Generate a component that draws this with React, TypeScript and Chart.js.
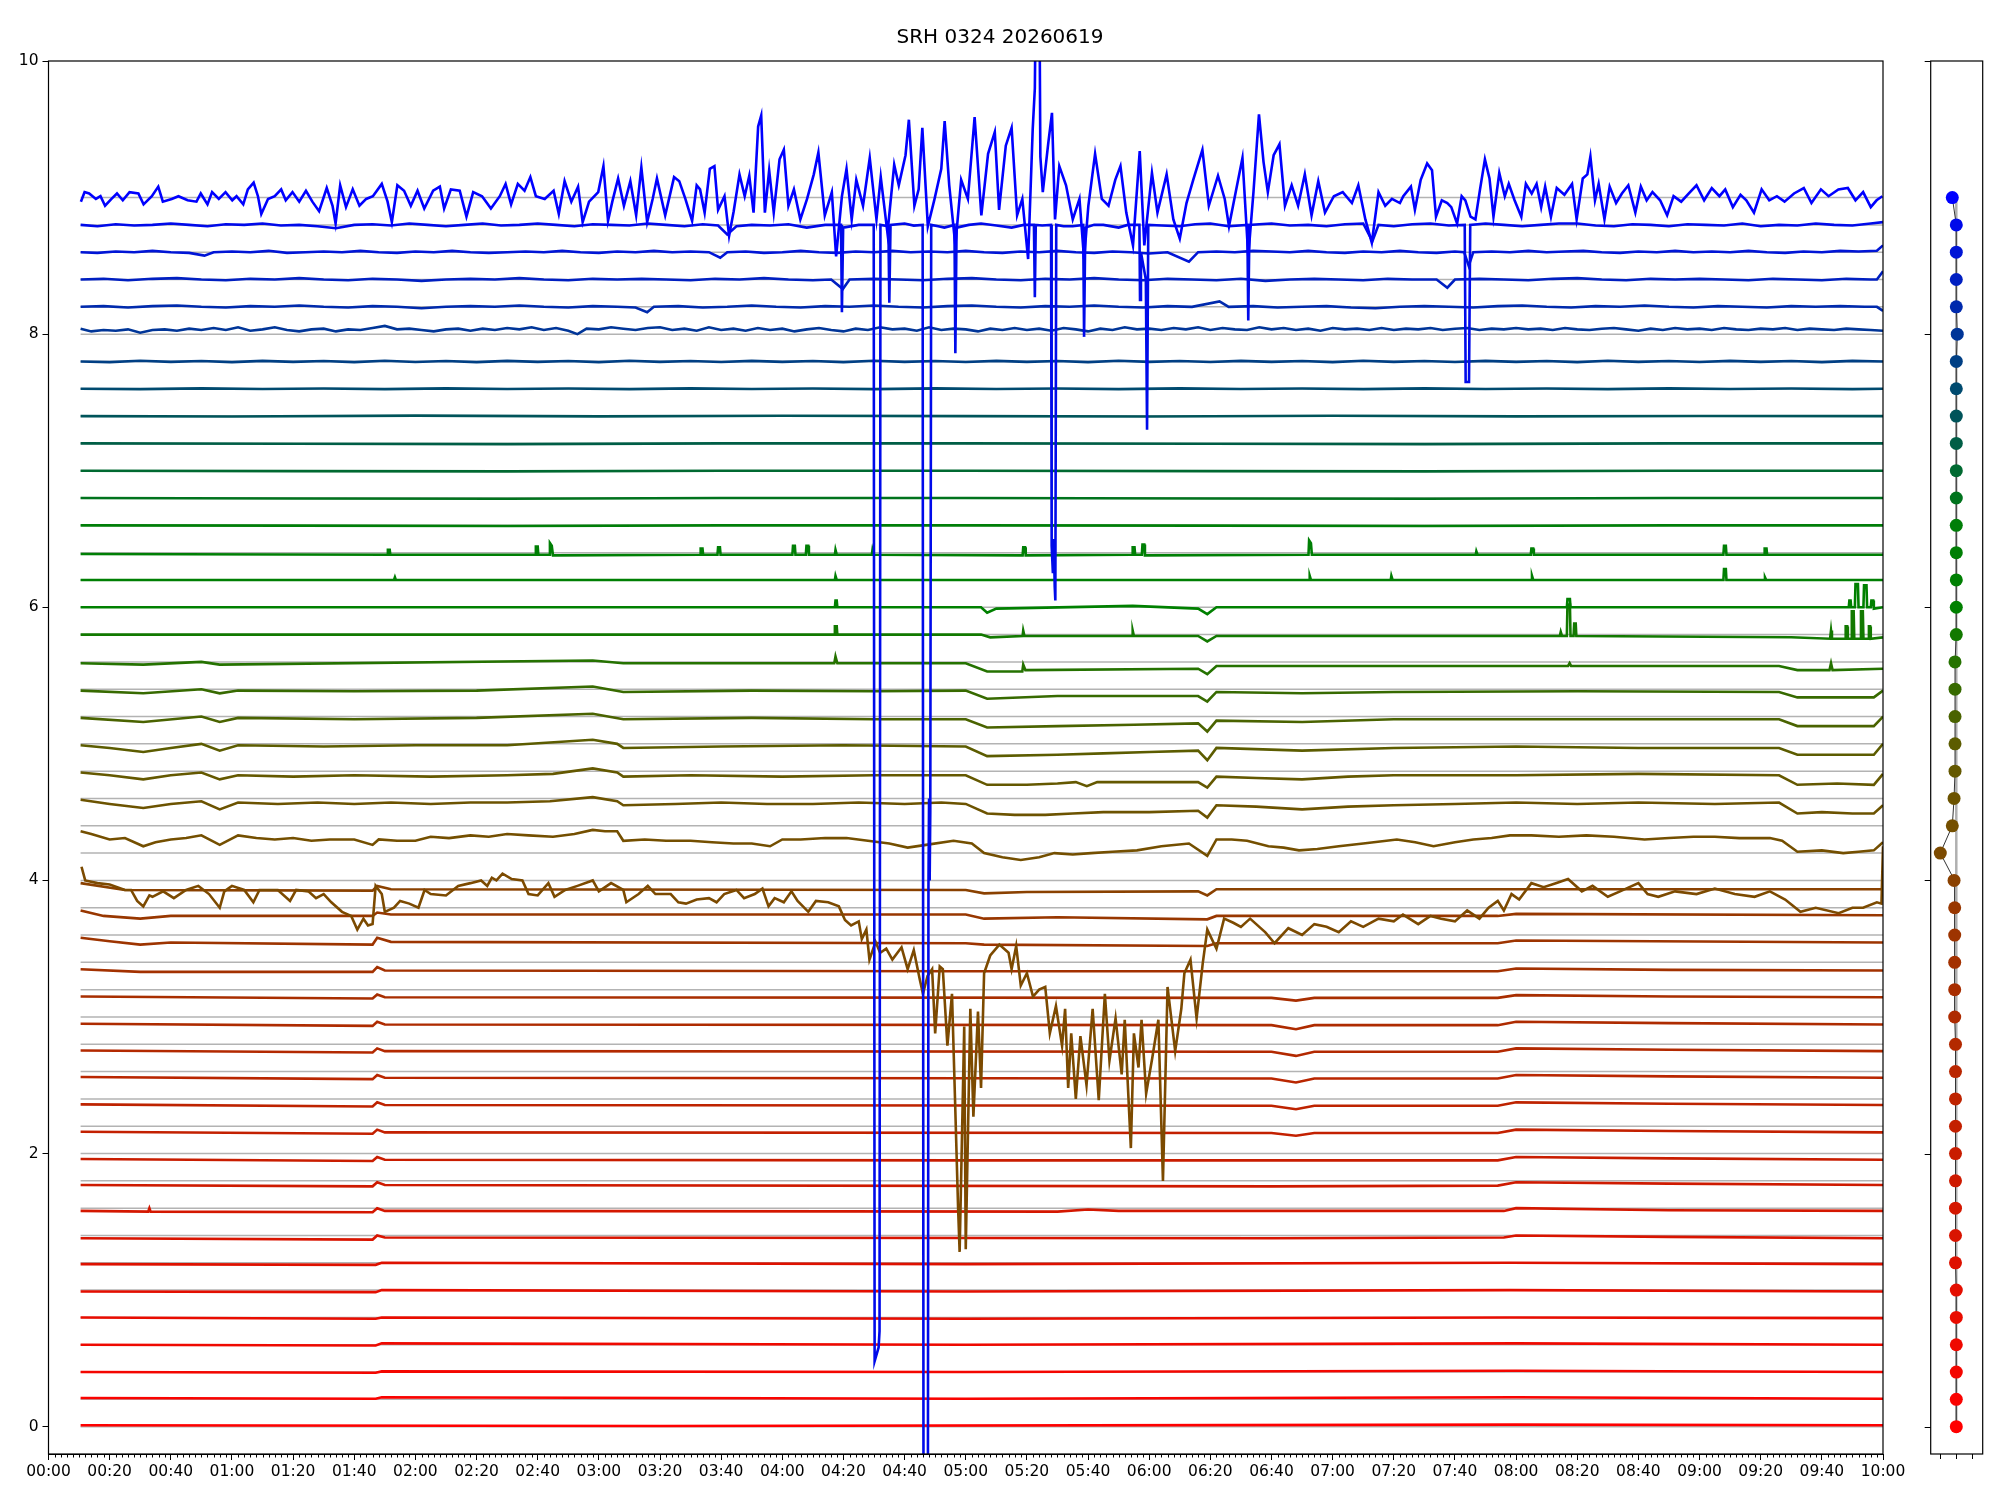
import React, { useEffect, useRef } from "react";
import { Chart, registerables } from "chart.js";
Chart.register(...registerables);

type Pt = [number, number];

const TITLE = "SRH 0324 20260619";

const channelLevels = [
  0.0, 0.2, 0.4, 0.6, 0.8, 1.0, 1.2, 1.4, 1.6, 1.8, 2.0, 2.2, 2.4, 2.6, 2.8, 3.0,
  3.2, 3.4, 3.6, 3.8, 4.0, 4.2, 4.4, 4.6, 4.8, 5.0, 5.2, 5.4, 5.6, 5.8, 6.0, 6.2,
  6.4, 6.6, 6.8, 7.0, 7.2, 7.4, 7.6, 7.8, 8.0, 8.2, 8.4, 8.6, 8.8, 9.0,
];

// ---- channel traces: [minute, value] ----
const ch00: Pt[] = [[10.5, 0.01], [200, 0.005], [480, 0.015], [600, 0.01]];
const ch02: Pt[] = [[10.5, 0.21], [107, 0.205], [109, 0.215], [300, 0.205], [480, 0.215], [600, 0.205]];
const ch04: Pt[] = [[10.5, 0.4], [107, 0.395], [109, 0.405], [300, 0.4], [480, 0.41], [600, 0.4]];
const ch06: Pt[] = [[10.5, 0.6], [107, 0.595], [109, 0.61], [300, 0.6], [480, 0.61], [600, 0.6]];
const ch08: Pt[] = [[10.5, 0.8], [107, 0.79], [109, 0.8], [300, 0.79], [478, 0.8], [600, 0.795]];
const ch10: Pt[] = [[10.5, 0.99], [107, 0.985], [109, 1.0], [300, 0.99], [478, 1.0], [600, 0.99]];
const ch12: Pt[] = [[10.5, 1.19], [107, 1.185], [109, 1.2], [300, 1.19], [478, 1.2], [600, 1.19]];
const ch14: Pt[] = [[10.5, 1.38], [106, 1.37], [107.5, 1.4], [110, 1.385], [400, 1.38], [476, 1.385], [480, 1.4], [530, 1.39], [600, 1.38]];
const ch16: Pt[] = [[10.5, 1.58], [32.6, 1.575], [33, 1.6], [33.4, 1.575], [106, 1.57], [107.5, 1.6], [110, 1.58], [330, 1.575], [340, 1.59], [350, 1.58], [476, 1.58], [480, 1.6], [530, 1.585], [600, 1.58]];
const ch18: Pt[] = [[10.5, 1.77], [106, 1.76], [107.5, 1.79], [110, 1.77], [400, 1.76], [474, 1.765], [480, 1.79], [530, 1.78], [600, 1.77]];
const ch20: Pt[] = [[10.5, 1.96], [106, 1.945], [107.5, 1.975], [110, 1.955], [300, 1.95], [474, 1.95], [480, 1.975], [530, 1.965], [600, 1.955]];
const ch22: Pt[] = [[10.5, 2.16], [106, 2.145], [107.5, 2.175], [110, 2.155], [400, 2.15], [408, 2.13], [414, 2.15], [474, 2.15], [480, 2.175], [530, 2.165], [600, 2.155]];
const ch24: Pt[] = [[10.5, 2.36], [106, 2.345], [107.5, 2.375], [110, 2.355], [400, 2.35], [408, 2.325], [414, 2.35], [474, 2.35], [480, 2.375], [530, 2.365], [600, 2.355]];
const ch26: Pt[] = [[10.5, 2.56], [106, 2.545], [107.5, 2.575], [110, 2.555], [400, 2.55], [408, 2.52], [414, 2.55], [474, 2.55], [480, 2.575], [530, 2.565], [600, 2.555]];
const ch28: Pt[] = [[10.5, 2.755], [106, 2.74], [107.5, 2.77], [110, 2.75], [400, 2.745], [408, 2.715], [414, 2.745], [474, 2.745], [480, 2.77], [530, 2.76], [600, 2.75]];
const ch30: Pt[] = [[10.5, 2.95], [106, 2.935], [107.5, 2.965], [110, 2.945], [400, 2.94], [408, 2.91], [414, 2.94], [474, 2.94], [480, 2.965], [530, 2.955], [600, 2.945]];
const ch32: Pt[] = [[10.5, 3.15], [106, 3.135], [107.5, 3.165], [110, 3.145], [400, 3.14], [408, 3.12], [414, 3.14], [474, 3.14], [480, 3.16], [530, 3.15], [600, 3.145]];
const ch34: Pt[] = [[10.5, 3.35], [30, 3.33], [106, 3.33], [107.5, 3.365], [110, 3.34], [300, 3.335], [474, 3.335], [480, 3.355], [530, 3.345], [600, 3.34]];
const ch36: Pt[] = [[10.5, 3.58], [20, 3.555], [30, 3.53], [40, 3.545], [106, 3.53], [107.5, 3.58], [112, 3.55], [300, 3.54], [306, 3.53], [379, 3.52], [382, 3.54], [474, 3.54], [480, 3.56], [600, 3.545]];
const ch38: Pt[] = [[10.5, 3.78], [18, 3.74], [30, 3.72], [40, 3.74], [106, 3.74], [107.5, 3.765], [112, 3.75], [300, 3.75], [306, 3.72], [330, 3.73], [379, 3.715], [382, 3.74], [474, 3.74], [480, 3.755], [600, 3.745]];
const ch40: Pt[] = [[10.5, 3.98], [25, 3.93], [106, 3.925], [107.5, 3.96], [112, 3.935], [300, 3.93], [306, 3.905], [320, 3.915], [376, 3.92], [379, 3.89], [382, 3.935], [600, 3.935]];
const ch42: Pt[] = [
  [10.8, 4.1], [12, 4.0], [16, 3.98], [20, 3.97], [25, 3.93], [27, 3.93], [29, 3.85], [31, 3.81], [33, 3.89], [34, 3.88],
  [37.5, 3.92], [41, 3.87], [45, 3.93], [49, 3.96], [52.5, 3.9], [56, 3.8], [57.5, 3.92], [60, 3.96], [64, 3.93], [67, 3.84],
  [69, 3.93], [75, 3.93], [79, 3.85], [81, 3.93], [85, 3.92], [87.5, 3.87], [90, 3.9], [92.5, 3.84], [96, 3.77], [99, 3.74],
  [101, 3.64], [103, 3.72], [104.5, 3.67], [106, 3.68], [107, 3.96], [109, 3.9], [110, 3.77], [113, 3.8], [115, 3.85], [118, 3.83],
  [121, 3.8], [123, 3.93], [125, 3.9], [130, 3.89], [134, 3.96], [138, 3.98], [141.5, 4.0], [143.5, 3.96], [145, 4.02], [146.5, 4.0],
  [148.5, 4.05], [151.5, 4.01], [155, 4.0], [157, 3.9], [160, 3.89], [163.5, 3.98], [165.5, 3.88], [169, 3.93], [173, 3.96], [178, 4.0],
  [180, 3.92], [184, 3.98], [188, 3.93], [189, 3.84], [193, 3.9], [196, 3.96], [198.5, 3.9], [203.5, 3.9], [206, 3.84], [208.5, 3.83],
  [212, 3.86], [216, 3.87], [218.5, 3.84], [221, 3.9], [225, 3.93], [227.5, 3.87], [231, 3.9], [233.5, 3.94], [235.5, 3.81], [237.5, 3.87],
  [240.5, 3.84], [243, 3.92], [245, 3.85], [248.5, 3.77], [251, 3.85], [255, 3.84], [258.5, 3.81], [260.5, 3.71], [262.5, 3.67], [265, 3.7],
  [266, 3.57], [267.5, 3.64], [268.5, 3.42], [270.5, 3.55], [272, 3.47], [274, 3.5], [276, 3.42], [279, 3.51], [281, 3.35], [283, 3.49],
  [285, 3.27], [286, 3.17], [287.5, 3.3], [289, 3.35], [290, 2.88], [291.5, 3.37], [292.5, 3.35], [294, 2.79], [295.5, 3.17], [296.5, 2.39],
  [297.5, 1.6], [298, 1.28], [299.5, 2.93], [300, 1.3], [301.5, 3.06], [302.5, 2.27], [304, 3.04], [305, 2.48], [306, 3.32], [308, 3.45],
  [311, 3.53], [314, 3.47], [315, 3.35], [316.5, 3.52], [318, 3.23], [320, 3.32], [322, 3.15], [324, 3.2], [326, 3.22], [327.5, 2.88],
  [329.5, 3.08], [331.5, 2.79], [332.5, 3.06], [333.5, 2.48], [334.5, 2.88], [336, 2.4], [337.5, 2.86], [339.5, 2.5], [341.5, 3.06], [343.5, 2.39],
  [345.5, 3.17], [347, 2.68], [349, 2.99], [351, 2.58], [352, 2.98], [354, 2.04], [355, 2.88], [356.5, 2.63], [357.5, 2.98], [359, 2.44],
  [361, 2.7], [363, 2.98], [364.5, 1.8], [366, 3.22], [368.5, 2.75], [370.5, 3.06], [371.5, 3.32], [373.5, 3.42], [375.5, 2.99], [377.5, 3.39],
  [379, 3.64], [382, 3.5], [384.5, 3.72], [387.5, 3.69], [390, 3.66], [393, 3.72], [398, 3.62], [401, 3.54], [405.5, 3.65], [410, 3.6],
  [414, 3.68], [418, 3.66], [422, 3.62], [426, 3.7], [430, 3.66], [435, 3.72], [440, 3.7], [443, 3.75], [448, 3.68], [452, 3.74],
  [455.5, 3.72], [460, 3.7], [464, 3.78], [468, 3.72], [471, 3.8], [474, 3.85], [476, 3.78], [478.5, 3.9], [481, 3.86], [485, 3.98],
  [489, 3.95], [493, 3.98], [497, 4.01], [501.5, 3.92], [505, 3.96], [510, 3.88], [514, 3.92], [520, 3.98], [523, 3.9], [526.5, 3.88],
  [532, 3.92], [539, 3.9], [545, 3.94], [551.5, 3.9], [558, 3.88], [563, 3.92], [568, 3.86], [573, 3.77], [578, 3.8], [585.5, 3.76],
  [590, 3.8], [593.5, 3.8], [598, 3.84], [599.5, 3.83], [600, 4.25],
];
const ch44: Pt[] = [
  [10.5, 4.36], [14, 4.34], [20, 4.3], [25, 4.31], [31, 4.25], [35, 4.28], [40, 4.3], [45, 4.31], [50, 4.33], [56, 4.26],
  [62, 4.33], [68, 4.31], [74, 4.3], [80, 4.31], [86, 4.29], [92, 4.3], [100, 4.3], [106, 4.26], [108, 4.3], [114, 4.29],
  [120, 4.29], [125, 4.32], [131, 4.31], [138, 4.33], [144, 4.32], [150, 4.34], [157, 4.33], [165, 4.32], [172, 4.34], [178, 4.37],
  [182, 4.36], [186, 4.36], [188, 4.29], [195, 4.3], [202, 4.29], [210, 4.29], [217, 4.28], [224, 4.27], [230, 4.27], [236, 4.25],
  [240, 4.3], [246, 4.3], [254, 4.31], [261, 4.31], [268, 4.29], [275, 4.27], [281, 4.24], [287, 4.26], [296, 4.29], [302, 4.27],
  [306, 4.2], [312, 4.17], [318, 4.15], [324, 4.17], [329, 4.2], [335, 4.19], [341, 4.2], [348, 4.21], [356, 4.22], [364, 4.25],
  [373, 4.27], [379, 4.18], [382, 4.3], [387, 4.3], [392, 4.29], [399, 4.25], [404, 4.24], [409, 4.22], [415, 4.23], [422, 4.25],
  [430, 4.27], [441, 4.3], [447, 4.28], [453, 4.25], [460, 4.28], [466, 4.3], [472, 4.31], [478, 4.33], [485, 4.33], [494, 4.32],
  [503, 4.33], [512, 4.32], [522, 4.3], [530, 4.31], [538, 4.32], [545, 4.32], [553, 4.31], [563, 4.31], [567, 4.29], [572, 4.21],
  [580, 4.22], [587, 4.2], [592, 4.21], [597, 4.22], [600, 4.28],
];
const ch46: Pt[] = [
  [10.5, 4.59], [20, 4.56], [31, 4.53], [40, 4.56], [50, 4.58], [56, 4.52], [62, 4.57], [75, 4.56], [88, 4.57], [100, 4.56],
  [112, 4.57], [125, 4.56], [138, 4.57], [150, 4.57], [164, 4.58], [178, 4.61], [186, 4.58], [188, 4.55], [205, 4.56], [220, 4.57],
  [235, 4.56], [250, 4.56], [265, 4.57], [280, 4.56], [292, 4.57], [300, 4.56], [307, 4.49], [316, 4.48], [326, 4.48], [335, 4.49],
  [345, 4.5], [360, 4.5], [376, 4.51], [379, 4.46], [382, 4.55], [395, 4.54], [410, 4.52], [425, 4.54], [440, 4.55], [460, 4.56],
  [480, 4.57], [500, 4.56], [520, 4.57], [545, 4.56], [566, 4.57], [572, 4.49], [580, 4.5], [590, 4.49], [597, 4.49], [600, 4.55],
];
const ch48: Pt[] = [
  [10.5, 4.79], [20, 4.77], [31, 4.74], [40, 4.77], [50, 4.79], [56, 4.74], [62, 4.77], [80, 4.76], [100, 4.77], [125, 4.76],
  [150, 4.77], [165, 4.78], [178, 4.82], [186, 4.79], [188, 4.76], [210, 4.77], [240, 4.76], [270, 4.77], [300, 4.77], [307, 4.7],
  [320, 4.7], [330, 4.71], [336, 4.72], [339.6, 4.69], [343, 4.72], [360, 4.72], [376, 4.72], [379, 4.68], [382, 4.76], [395, 4.75],
  [410, 4.74], [425, 4.76], [440, 4.77], [480, 4.77], [520, 4.78], [566, 4.77], [572, 4.7], [585, 4.71], [597, 4.7], [600, 4.78],
];
const ch50: Pt[] = [
  [10.5, 4.99], [20, 4.97], [31, 4.94], [40, 4.97], [50, 5.0], [56, 4.95], [62, 4.99], [90, 4.98], [120, 4.99], [150, 4.99],
  [178, 5.03], [186, 5.0], [188, 4.97], [220, 4.98], [260, 4.99], [300, 4.98], [307, 4.91], [330, 4.92], [345, 4.93], [360, 4.94],
  [376, 4.95], [379, 4.88], [382, 4.97], [410, 4.95], [440, 4.97], [480, 4.98], [520, 4.97], [566, 4.97], [572, 4.92], [597, 4.92],
  [600, 5.0],
];
const ch52: Pt[] = [
  [10.5, 5.19], [31, 5.16], [50, 5.2], [56, 5.16], [62, 5.19], [100, 5.18], [140, 5.19], [178, 5.22], [188, 5.18], [230, 5.19],
  [270, 5.18], [300, 5.18], [307, 5.12], [330, 5.13], [355, 5.14], [376, 5.15], [379, 5.09], [382, 5.17], [410, 5.16], [440, 5.18],
  [500, 5.18], [566, 5.18], [572, 5.13], [597, 5.13], [600, 5.2],
];
const ch54: Pt[] = [
  [10.5, 5.39], [31, 5.37], [50, 5.4], [56, 5.37], [62, 5.39], [100, 5.385], [140, 5.39], [178, 5.42], [188, 5.38], [230, 5.39],
  [270, 5.385], [300, 5.39], [307, 5.33], [330, 5.35], [355, 5.35], [376, 5.35], [379, 5.31], [382, 5.38], [410, 5.37], [440, 5.38],
  [500, 5.385], [566, 5.38], [572, 5.34], [597, 5.34], [600, 5.39],
];
const ch56: Pt[] = [
  [10.5, 5.59], [31, 5.58], [50, 5.6], [56, 5.58], [178, 5.61], [188, 5.59], [257, 5.59], [257.4, 5.64], [258, 5.59], [300, 5.59],
  [307, 5.53], [318.5, 5.53], [318.8, 5.58], [319.5, 5.54], [376, 5.55], [379, 5.51], [382, 5.57], [497, 5.57], [497.5, 5.59], [498, 5.57],
  [566, 5.57], [572, 5.54], [582.5, 5.54], [583, 5.59], [583.5, 5.54], [600, 5.55],
];
const ch58: Pt[] = [
  [10.5, 5.8], [257, 5.8], [257.2, 5.86], [257.8, 5.86], [258, 5.8], [305, 5.8], [308, 5.78], [318.6, 5.79], [318.8, 5.83], [319.2, 5.79],
  [354.4, 5.79], [354.6, 5.83], [355, 5.79], [376, 5.79], [379, 5.75], [382, 5.79], [494.3, 5.79], [494.6, 5.82], [495, 5.79], [496.6, 5.79],
  [496.8, 6.02], [497.6, 6.02], [497.8, 5.79], [498.8, 5.79], [499, 5.88], [499.5, 5.88], [499.7, 5.79], [570, 5.78], [582.7, 5.77], [583, 5.83],
  [583.3, 5.77], [587.6, 5.77], [587.8, 5.86], [588.3, 5.86], [588.5, 5.77], [589.6, 5.77], [589.8, 5.97], [590.4, 5.97], [590.6, 5.77], [592.6, 5.77],
  [592.8, 5.97], [593.4, 5.97], [593.6, 5.77], [595.2, 5.77], [595.4, 5.86], [595.8, 5.86], [596, 5.77], [600, 5.78],
];
const ch60: Pt[] = [
  [10.5, 6.0], [257.2, 6.0], [257.4, 6.05], [257.8, 6.05], [258, 6.0], [305, 6.0], [307, 5.96], [310, 5.99], [354.6, 6.01], [376, 5.99],
  [379, 5.95], [382, 6.0], [496.6, 6.0], [496.8, 6.06], [497.6, 6.06], [497.8, 6.0], [588.8, 6.0], [589, 6.05], [589.4, 6.05], [589.6, 6.0],
  [590.8, 6.0], [591, 6.17], [591.8, 6.17], [592, 6.0], [593.6, 6.0], [593.8, 6.16], [594.6, 6.16], [594.8, 6.0], [596, 6.0], [596.2, 6.05],
  [596.8, 6.05], [597, 5.99], [600, 6.0],
];
const ch62: Pt[] = [
  [10.5, 6.2], [113, 6.2], [113.3, 6.22], [113.6, 6.2], [257.2, 6.2], [257.4, 6.23], [257.8, 6.2], [412.3, 6.2], [412.5, 6.23], [412.9, 6.2],
  [439, 6.2], [439.2, 6.23], [439.6, 6.2], [485, 6.2], [485.2, 6.23], [485.6, 6.2], [547.8, 6.2], [548, 6.28], [548.6, 6.28], [548.8, 6.2],
  [561.2, 6.2], [561.4, 6.22], [561.8, 6.2], [600, 6.2],
];
const ch64: Pt[] = [
  [10.5, 6.39], [110.8, 6.385], [111, 6.42], [111.6, 6.42], [111.8, 6.385], [159.2, 6.385], [159.4, 6.445], [160, 6.445], [160.2, 6.385], [163.8, 6.385],
  [164, 6.47], [164.6, 6.45], [165, 6.38], [213.1, 6.385], [213.3, 6.43], [213.9, 6.43], [214.1, 6.385], [218.8, 6.385], [219, 6.44], [219.6, 6.44],
  [219.8, 6.385], [243.3, 6.385], [243.5, 6.45], [244.1, 6.45], [244.3, 6.385], [247.7, 6.385], [247.9, 6.45], [248.5, 6.45], [248.7, 6.385], [257.2, 6.385],
  [257.4, 6.42], [257.8, 6.385], [269.3, 6.385], [269.5, 6.42], [269.9, 6.385], [318.6, 6.38], [318.8, 6.44], [319.4, 6.44], [319.6, 6.38], [354.4, 6.385],
  [354.6, 6.44], [355.2, 6.44], [355.4, 6.385], [357.6, 6.385], [357.8, 6.46], [358.4, 6.46], [358.6, 6.38], [412.1, 6.385], [412.3, 6.49], [412.9, 6.47],
  [413.2, 6.385], [466.8, 6.385], [467, 6.41], [467.4, 6.385], [484.8, 6.385], [485, 6.43], [485.6, 6.43], [485.8, 6.385], [547.8, 6.385], [548, 6.45],
  [548.6, 6.45], [548.8, 6.385], [561.1, 6.385], [561.3, 6.43], [561.9, 6.43], [562.1, 6.385], [600, 6.385],
];
const ch66: Pt[] = [[10.5, 6.6], [80, 6.598], [150, 6.595], [220, 6.6], [300, 6.6], [380, 6.598], [450, 6.595], [530, 6.6], [600, 6.6]];
const ch68: Pt[] = [[10.5, 6.8], [80, 6.797], [150, 6.795], [220, 6.8], [300, 6.8], [380, 6.797], [450, 6.795], [530, 6.8], [600, 6.8]];
const ch70: Pt[] = [[10.5, 7.0], [80, 6.997], [150, 6.995], [220, 7.0], [300, 7.0], [380, 6.997], [450, 6.995], [530, 7.0], [600, 7.0]];
const ch72: Pt[] = [[10.5, 7.2], [80, 7.197], [150, 7.195], [220, 7.2], [300, 7.2], [380, 7.197], [450, 7.195], [530, 7.2], [600, 7.2]];
const ch74: Pt[] = [[10.5, 7.4], [60, 7.397], [120, 7.403], [180, 7.398], [240, 7.402], [300, 7.4], [360, 7.397], [420, 7.402], [480, 7.398], [540, 7.401], [600, 7.4]];
const ch76: Pt[] = [
  [10.5, 7.6], [30, 7.597], [50, 7.603], [70, 7.598], [90, 7.602], [110, 7.597], [130, 7.603], [150, 7.598], [170, 7.602], [190, 7.597],
  [210, 7.603], [230, 7.598], [250, 7.602], [270, 7.597], [290, 7.603], [310, 7.598], [330, 7.602], [350, 7.597], [370, 7.603], [390, 7.598],
  [410, 7.602], [430, 7.597], [450, 7.603], [470, 7.598], [490, 7.602], [510, 7.597], [530, 7.603], [550, 7.598], [570, 7.602], [590, 7.597], [600, 7.6],
];
const ch78: Pt[] = [
  [10.5, 7.8], [20, 7.795], [30, 7.805], [40, 7.797], [50, 7.803], [60, 7.795], [70, 7.804], [80, 7.797], [90, 7.803], [100, 7.795],
  [110, 7.805], [120, 7.796], [130, 7.803], [140, 7.795], [150, 7.804], [160, 7.797], [170, 7.803], [180, 7.795], [190, 7.805], [200, 7.797],
  [210, 7.803], [220, 7.796], [230, 7.804], [240, 7.797], [250, 7.803], [260, 7.795], [270, 7.805], [280, 7.797], [290, 7.803], [300, 7.796],
  [310, 7.804], [320, 7.797], [330, 7.803], [340, 7.795], [350, 7.805], [360, 7.797], [370, 7.803], [380, 7.796], [390, 7.804], [400, 7.797],
  [410, 7.803], [420, 7.795], [430, 7.805], [440, 7.797], [450, 7.803], [460, 7.796], [470, 7.804], [480, 7.797], [490, 7.803], [500, 7.795],
  [510, 7.805], [520, 7.797], [530, 7.803], [540, 7.796], [550, 7.804], [560, 7.797], [570, 7.803], [580, 7.795], [590, 7.804], [600, 7.8],
];
const ch80: Pt[] = [
  [10.5, 8.04], [14, 8.02], [18, 8.03], [22, 8.025], [26, 8.035], [30, 8.01], [34, 8.03], [38, 8.035], [42, 8.025], [46, 8.04],
  [50, 8.03], [54, 8.045], [58, 8.03], [62, 8.05], [66, 8.025], [70, 8.035], [74, 8.05], [78, 8.03], [82, 8.02], [86, 8.035],
  [90, 8.04], [94, 8.02], [98, 8.035], [102, 8.03], [106, 8.045], [110, 8.06], [114, 8.035], [118, 8.04], [122, 8.03], [126, 8.02],
  [130, 8.035], [134, 8.04], [138, 8.025], [142, 8.04], [146, 8.03], [150, 8.045], [154, 8.035], [158, 8.05], [162, 8.03], [166, 8.045],
  [170, 8.025], [173, 8.0], [176, 8.04], [180, 8.035], [184, 8.05], [188, 8.04], [192, 8.03], [196, 8.045], [200, 8.05], [204, 8.03],
  [208, 8.04], [212, 8.025], [216, 8.05], [220, 8.03], [224, 8.04], [228, 8.025], [232, 8.045], [236, 8.03], [240, 8.04], [244, 8.02],
  [248, 8.035], [252, 8.045], [256, 8.03], [260, 8.02], [264, 8.04], [268, 8.03], [272, 8.05], [276, 8.035], [280, 8.04], [284, 8.025],
  [288, 8.05], [292, 8.03], [296, 8.04], [300, 8.035], [304, 8.02], [308, 8.04], [312, 8.03], [316, 8.045], [320, 8.03], [324, 8.04],
  [328, 8.025], [332, 8.045], [336, 8.035], [340, 8.02], [344, 8.04], [348, 8.03], [352, 8.05], [356, 8.035], [360, 8.04], [364, 8.03],
  [368, 8.045], [372, 8.035], [376, 8.05], [380, 8.03], [384, 8.045], [388, 8.035], [392, 8.03], [396, 8.05], [400, 8.035], [404, 8.045],
  [408, 8.03], [412, 8.04], [416, 8.025], [420, 8.045], [424, 8.035], [428, 8.04], [432, 8.03], [436, 8.045], [440, 8.03], [444, 8.04],
  [448, 8.035], [452, 8.045], [456, 8.03], [460, 8.04], [464, 8.045], [468, 8.03], [472, 8.04], [476, 8.035], [480, 8.045], [484, 8.035],
  [488, 8.04], [492, 8.03], [496, 8.045], [500, 8.035], [504, 8.03], [508, 8.04], [512, 8.045], [516, 8.035], [520, 8.025], [524, 8.04],
  [528, 8.03], [532, 8.045], [536, 8.035], [540, 8.04], [544, 8.03], [548, 8.045], [552, 8.035], [556, 8.03], [560, 8.04], [564, 8.035],
  [568, 8.045], [572, 8.03], [576, 8.04], [580, 8.035], [584, 8.03], [588, 8.04], [592, 8.035], [596, 8.03], [600, 8.025],
];
const ch82: Pt[] = [
  [10.5, 8.2], [18, 8.205], [26, 8.195], [34, 8.205], [42, 8.21], [50, 8.2], [58, 8.195], [66, 8.205], [74, 8.2], [82, 8.21],
  [90, 8.2], [98, 8.195], [106, 8.205], [114, 8.2], [122, 8.19], [130, 8.2], [138, 8.205], [146, 8.2], [154, 8.21], [162, 8.2],
  [170, 8.195], [178, 8.205], [186, 8.2], [192, 8.195], [195.8, 8.16], [198, 8.2], [206, 8.205], [214, 8.195], [222, 8.2], [230, 8.21],
  [238, 8.2], [246, 8.195], [254, 8.205], [262, 8.2], [270, 8.21], [278, 8.2], [286, 8.195], [294, 8.205], [302, 8.21], [310, 8.2],
  [318, 8.195], [326, 8.205], [334, 8.2], [342, 8.21], [350, 8.2], [358, 8.195], [366, 8.205], [374, 8.2], [383, 8.24], [386, 8.2],
  [394, 8.205], [402, 8.195], [410, 8.2], [418, 8.205], [426, 8.195], [434, 8.19], [442, 8.2], [450, 8.205], [458, 8.2], [466, 8.195],
  [474, 8.205], [482, 8.21], [490, 8.2], [498, 8.195], [506, 8.205], [514, 8.2], [522, 8.21], [530, 8.2], [538, 8.195], [546, 8.205],
  [554, 8.2], [562, 8.195], [570, 8.205], [578, 8.2], [586, 8.205], [594, 8.2], [598, 8.2], [600, 8.17],
];
const ch84: Pt[] = [
  [10.5, 8.4], [18, 8.405], [26, 8.395], [34, 8.405], [42, 8.41], [50, 8.4], [58, 8.395], [66, 8.405], [74, 8.4], [82, 8.41],
  [90, 8.4], [98, 8.395], [106, 8.405], [114, 8.4], [122, 8.39], [130, 8.4], [138, 8.405], [146, 8.4], [154, 8.41], [162, 8.4],
  [170, 8.395], [178, 8.405], [186, 8.4], [194, 8.405], [202, 8.4], [210, 8.395], [218, 8.405], [226, 8.4], [234, 8.41], [242, 8.4],
  [250, 8.395], [256, 8.4], [259.8, 8.33], [262, 8.4], [270, 8.405], [278, 8.4], [286, 8.395], [294, 8.405], [302, 8.41], [310, 8.4],
  [318, 8.395], [326, 8.405], [334, 8.4], [342, 8.41], [350, 8.4], [358, 8.395], [366, 8.405], [374, 8.4], [382, 8.395], [390, 8.405],
  [398, 8.39], [406, 8.4], [414, 8.405], [422, 8.4], [430, 8.395], [438, 8.405], [446, 8.4], [454, 8.4], [457.5, 8.34], [460, 8.4],
  [468, 8.405], [476, 8.4], [484, 8.395], [492, 8.405], [500, 8.41], [508, 8.4], [516, 8.395], [524, 8.405], [532, 8.4], [540, 8.405],
  [548, 8.4], [556, 8.395], [564, 8.405], [572, 8.4], [580, 8.395], [588, 8.405], [596, 8.4], [598, 8.4], [600, 8.46],
];
const ch86: Pt[] = [
  [10.5, 8.6], [16, 8.595], [22, 8.605], [28, 8.6], [34, 8.61], [40, 8.6], [46, 8.595], [51, 8.575], [54, 8.6], [60, 8.605],
  [66, 8.6], [72, 8.61], [78, 8.595], [84, 8.6], [90, 8.605], [96, 8.6], [102, 8.61], [108, 8.6], [114, 8.595], [120, 8.605],
  [126, 8.6], [132, 8.61], [138, 8.6], [144, 8.595], [150, 8.6], [156, 8.605], [162, 8.6], [168, 8.61], [174, 8.6], [180, 8.595],
  [186, 8.605], [192, 8.6], [198, 8.61], [204, 8.6], [210, 8.605], [216, 8.6], [219.7, 8.56], [222, 8.6], [228, 8.605], [234, 8.595],
  [240, 8.6], [246, 8.61], [252, 8.6], [258, 8.595], [264, 8.605], [270, 8.6], [276, 8.61], [282, 8.6], [288, 8.605], [294, 8.6],
  [300, 8.61], [306, 8.6], [312, 8.595], [318, 8.605], [324, 8.6], [330, 8.61], [336, 8.6], [342, 8.595], [348, 8.605], [354, 8.6],
  [360, 8.59], [366, 8.6], [373, 8.53], [376, 8.6], [382, 8.605], [388, 8.6], [394, 8.61], [400, 8.605], [406, 8.6], [412, 8.61],
  [418, 8.6], [424, 8.595], [430, 8.605], [436, 8.6], [442, 8.61], [448, 8.6], [454, 8.595], [460, 8.605], [463, 8.6], [464.5, 8.5],
  [466, 8.6], [472, 8.605], [478, 8.6], [484, 8.61], [490, 8.6], [496, 8.605], [502, 8.61], [508, 8.6], [514, 8.595], [520, 8.605],
  [526, 8.6], [532, 8.61], [538, 8.6], [544, 8.605], [550, 8.6], [556, 8.61], [562, 8.6], [568, 8.595], [574, 8.605], [580, 8.6],
  [586, 8.61], [592, 8.605], [598, 8.61], [600, 8.65],
];
const ch88: Pt[] = [
  [10.5, 8.8], [16, 8.79], [22, 8.805], [28, 8.795], [34, 8.8], [40, 8.81], [46, 8.8], [52, 8.79], [58, 8.805], [64, 8.8],
  [70, 8.81], [76, 8.795], [82, 8.8], [88, 8.79], [94, 8.775], [100, 8.8], [106, 8.805], [112, 8.795], [118, 8.81], [124, 8.8],
  [130, 8.79], [136, 8.8], [142, 8.81], [148, 8.795], [154, 8.8], [160, 8.81], [166, 8.8], [172, 8.79], [178, 8.805], [184, 8.8],
  [190, 8.795], [196, 8.81], [202, 8.8], [208, 8.79], [214, 8.805], [219, 8.795], [222, 8.73], [225, 8.79], [230, 8.8], [236, 8.795],
  [242, 8.805], [248, 8.78], [254, 8.8], [259.2, 8.8], [259.5, 8.16], [259.9, 8.78], [265, 8.8], [269.9, 8.8], [270.2, 0.48], [271.5, 0.58],
  [271.8, 0.7], [272.1, 8.8], [274.7, 8.79], [275, 8.23], [275.4, 8.8], [280, 8.81], [283, 8.795], [285.9, 8.8], [286.2, -1], [287.6, -1],
  [287.8, 3.95], [288.0, 4.6], [288.2, 4.0], [288.4, 4.5], [288.7, 8.8], [291, 8.79], [293, 8.78], [296.3, 8.8], [296.6, 7.86], [297, 8.78],
  [301, 8.8], [305, 8.81], [310, 8.795], [315, 8.78], [319, 8.8], [322.3, 8.8], [322.6, 8.27], [322.9, 8.8], [325, 8.795], [327.9, 8.8],
  [328.1, 6.45], [328.5, 6.25], [328.8, 6.5], [329.1, 6.15], [329.3, 6.05], [329.6, 8.8], [332, 8.79], [335, 8.79], [338.4, 8.8], [338.7, 7.98],
  [339.1, 8.78], [342, 8.8], [345, 8.8], [350, 8.78], [353, 8.8], [356.8, 8.8], [357.0, 8.25], [357.3, 8.6], [358.9, 8.4], [359.3, 7.3],
  [359.7, 8.8], [364, 8.795], [370, 8.79], [375, 8.805], [380, 8.81], [386, 8.79], [392.1, 8.8], [392.4, 8.1], [392.8, 8.8], [396, 8.805],
  [400, 8.81], [406, 8.795], [412, 8.8], [418, 8.79], [424, 8.805], [430, 8.81], [433, 8.68], [435, 8.8], [440, 8.79], [446, 8.805],
  [452, 8.81], [458, 8.795], [463.2, 8.8], [463.5, 7.65], [464.6, 7.65], [465.0, 8.8], [470, 8.81], [476, 8.8], [482, 8.79], [488, 8.8],
  [494, 8.81], [500, 8.81], [506, 8.795], [512, 8.79], [518, 8.805], [524, 8.8], [530, 8.79], [536, 8.805], [542, 8.8], [548, 8.795],
  [554, 8.81], [560, 8.79], [566, 8.8], [572, 8.795], [578, 8.81], [584, 8.8], [590, 8.795], [596, 8.81], [600, 8.82],
];
const ch90: Pt[] = [
  [10.6, 8.97], [11.8, 9.04], [13.3, 9.03], [15.5, 8.99], [17, 9.01], [18.5, 8.94], [20.6, 8.99], [22.4, 9.03], [24.3, 8.98], [26.5, 9.04],
  [29.4, 9.03], [31.1, 8.95], [33.8, 9.01], [35.9, 9.08], [37.4, 8.97], [40.3, 8.99], [42.5, 9.01], [45.5, 8.98], [48.4, 8.97], [49.8, 9.03],
  [52, 8.95], [53.5, 9.04], [55.7, 8.99], [57.9, 9.04], [60.1, 8.98], [61.5, 9.01], [63.7, 8.95], [65.2, 9.06], [67.1, 9.11], [68.5, 9.01],
  [69.6, 8.88], [71.8, 8.99], [74, 9.01], [76.1, 9.06], [77.6, 8.98], [79.8, 9.04], [82, 8.97], [84.2, 9.05], [86.3, 8.97], [88.5, 8.9],
  [91, 9.07], [92.9, 8.94], [93.9, 8.81], [95.4, 9.09], [97.3, 8.93], [99.5, 9.06], [101.7, 8.94], [103.9, 8.99], [106.1, 9.01], [109, 9.1],
  [110.9, 8.97], [112.3, 8.82], [114.1, 9.09], [116.3, 9.05], [118.5, 8.94], [120.7, 9.05], [122.9, 8.92], [125.8, 9.05], [128, 9.08], [129.4, 8.92],
  [131.6, 9.06], [134.5, 9.05], [136.7, 8.86], [138.9, 9.04], [141.8, 9.01], [144.7, 8.92], [147.6, 9.01], [149.5, 9.1], [151.3, 8.95], [153.5, 9.1],
  [155.7, 9.05], [157.6, 9.15], [159.4, 9.01], [162.3, 8.99], [165.2, 9.05], [166.9, 8.88], [168.8, 9.12], [171, 8.97], [173.2, 9.08], [174.7, 8.82],
  [176.8, 8.97], [179.8, 9.04], [181.5, 9.23], [183, 8.83], [184.4, 8.97], [186.3, 9.14], [188.2, 8.94], [190.3, 9.12], [192.2, 8.87], [193.9, 9.22],
  [195.8, 8.82], [197.6, 8.99], [199, 9.14], [201.7, 8.87], [204.6, 9.15], [206.3, 9.12], [208.3, 8.99], [210.5, 8.83], [212, 9.09], [213.1, 9.06],
  [214.6, 8.89], [216.3, 9.21], [217.8, 9.23], [219, 8.91], [221.1, 9.01], [222.6, 8.72], [224.1, 8.9], [226, 9.17], [227.7, 9.01], [229.2, 9.16],
  [230.6, 8.89], [232.1, 9.52], [233.1, 9.6], [234.3, 8.89], [235.7, 9.2], [237.2, 8.89], [239.1, 9.28], [240.5, 9.35], [242, 8.94], [243.8, 9.06],
  [245.9, 8.84], [248.1, 8.99], [250.3, 9.17], [251.8, 9.33], [253.9, 8.87], [256.2, 9.04], [257.6, 8.57], [259.5, 9.01], [261, 9.21], [262.7, 8.84],
  [264.2, 9.13], [266.4, 8.94], [268.6, 9.29], [270.8, 8.84], [272.2, 9.15], [274.4, 8.74], [276.6, 9.24], [278.1, 9.09], [280.3, 9.31], [281.4, 9.57],
  [283.2, 8.94], [284.6, 9.06], [285.8, 9.51], [287.6, 8.79], [289.8, 8.99], [292, 9.21], [293.1, 9.56], [294.6, 9.09], [296.6, 8.65], [298.5, 9.13],
  [300.7, 8.99], [302.9, 9.59], [305.1, 8.87], [307.3, 9.32], [309.5, 9.48], [310.9, 8.91], [313.1, 9.38], [315, 9.51], [316.8, 8.87], [318.5, 8.99],
  [320.4, 8.55], [321.9, 9.5], [322.6, 9.8], [322.9, 10.5], [324.1, 10.5], [324.4, 9.3], [325.2, 9.04], [327, 9.4], [328.2, 9.62], [329.2, 8.84],
  [330.6, 9.23], [332.8, 9.09], [335, 8.84], [337.2, 8.99], [338.7, 8.55], [340.1, 8.94], [342.3, 9.32], [344.5, 8.99], [346.7, 8.94], [348.9, 9.13],
  [350.6, 9.23], [352.5, 8.89], [354.7, 8.65], [356.9, 9.34], [358.4, 8.65], [360.9, 9.18], [362.7, 8.89], [365.7, 9.17], [367.9, 8.84], [370, 8.7],
  [372.2, 8.96], [374.4, 9.13], [377.4, 9.35], [379.5, 8.94], [382.5, 9.16], [384.7, 8.99], [386.1, 8.79], [388.3, 9.04], [390.5, 9.29], [392.4, 8.57],
  [394.1, 9.04], [395.9, 9.61], [397.4, 9.26], [398.8, 9.04], [400.7, 9.31], [402.6, 9.39], [404.4, 8.94], [406.6, 9.09], [408.7, 8.94], [410.9, 9.17],
  [413.1, 8.87], [415.3, 9.12], [417.5, 8.89], [420.4, 9.01], [423.3, 9.04], [426.3, 8.96], [428.4, 9.09], [430.7, 8.84], [432.8, 8.67], [435, 9.04],
  [437.2, 8.94], [439.4, 8.99], [442, 8.96], [443.1, 9.01], [445.6, 9.08], [446.9, 8.91], [448.8, 9.13], [450.9, 9.25], [452.5, 9.2], [453.8, 8.86],
  [455.7, 8.98], [457.5, 8.96], [458.8, 8.93], [460.7, 8.81], [462.2, 9.01], [463.4, 8.98], [465.1, 8.86], [466.7, 8.84], [468.2, 9.06], [469.8, 9.28],
  [471.3, 9.14], [472.6, 8.86], [474.5, 9.18], [476.3, 9.01], [477.6, 9.1], [479.5, 8.98], [481.7, 8.86], [483.2, 9.1], [485.1, 9.03], [486.7, 9.1],
  [488.2, 8.93], [489.5, 9.08], [491.4, 8.86], [493.3, 9.07], [495.8, 9.02], [498.3, 9.1], [499.8, 8.84], [501.8, 9.14], [503.3, 9.17], [504.3, 9.3],
  [505.8, 8.98], [507, 9.1], [508.9, 8.84], [510.6, 9.08], [512.7, 8.96], [514.6, 9.03], [516.7, 9.09], [519, 8.89], [520.8, 9.08], [522.7, 8.98],
  [524.6, 9.04], [527.1, 8.98], [529.4, 8.87], [531.5, 9.01], [534, 8.97], [536.5, 9.03], [539, 9.09], [541.5, 8.98], [544, 9.07], [546.5, 9.01],
  [548.4, 9.06], [550.9, 8.93], [553.4, 9.02], [555.3, 8.98], [557.8, 8.89], [560.3, 9.06], [562.8, 8.98], [565.3, 9.01], [567.8, 8.97], [570.9, 9.03],
  [574.1, 9.07], [576.6, 8.96], [579.7, 9.06], [582.2, 9.01], [585.4, 9.06], [588.5, 9.07], [591, 8.98], [593.5, 9.04], [596, 8.93], [597.9, 8.98],
  [599.8, 9.01],
];

const channelData: Pt[][] = [
  ch00, ch02, ch04, ch06, ch08, ch10, ch12, ch14, ch16, ch18, ch20, ch22, ch24, ch26, ch28, ch30,
  ch32, ch34, ch36, ch38, ch40, ch42, ch44, ch46, ch48, ch50, ch52, ch54, ch56, ch58, ch60, ch62,
  ch64, ch66, ch68, ch70, ch72, ch74, ch76, ch78, ch80, ch82, ch84, ch86, ch88, ch90,
];

const baselineStart = 10.5;
const baselineEnd = 600;

// ---- axes ----
const xTickMinutes = [
  0, 20, 40, 60, 80, 100, 120, 140, 160, 180, 200, 220, 240, 260, 280, 300,
  320, 340, 360, 380, 400, 420, 440, 460, 480, 500, 520, 540, 560, 580, 600,
];
const xMinorStep = 2;
const yTickValues = [0, 2, 4, 6, 8, 10];
const panelXTicks = [-1, 0, 1];

// ---- right panel: horizontal position of each channel's marker ----
const panelDotX = [
  0, 0, 0, 0, 0, 0, -0.05, -0.05, -0.05, -0.05, -0.05, -0.05, -0.05, -0.05, -0.05, -0.1,
  -0.1, -0.1, -0.1, -0.1, -0.14, -1.0, -0.25, -0.14, -0.08, -0.08, -0.08, -0.08, -0.08, 0, 0, 0,
  0, 0, 0, 0, 0, 0, 0, 0, 0.06, 0, 0, 0, 0, -0.25,
];

// ---- colour map stops: level, r, g, b ----
const colorStops: [number, number, number, number][] = [
  [0, 255, 0, 0],
  [3.8, 152, 55, 0],
  [4.2, 124, 74, 0],
  [5.0, 92, 92, 0],
  [6.0, 0, 128, 0],
  [6.6, 0, 126, 8],
  [9.0, 0, 0, 255],
];

function channelColor(level: number): string {
  for (let i = 0; i < colorStops.length - 1; i++) {
    const a = colorStops[i];
    const b = colorStops[i + 1];
    if (level >= a[0] && level <= b[0]) {
      const f = (level - a[0]) / (b[0] - a[0]);
      const r = Math.round(a[1] + (b[1] - a[1]) * f);
      const g = Math.round(a[2] + (b[2] - a[2]) * f);
      const bl = Math.round(a[3] + (b[3] - a[3]) * f);
      return `rgb(${r},${g},${bl})`;
    }
  }
  const l = colorStops[colorStops.length - 1];
  return `rgb(${l[1]},${l[2]},${l[3]})`;
}

function fmtTime(m: number): string {
  const h = Math.floor(m / 60);
  const mm = Math.round(m % 60);
  return `${String(h).padStart(2, "0")}:${String(mm).padStart(2, "0")}`;
}

const FONT = "'DejaVu Sans', sans-serif";
const W = 2000;
const H = 1500;
const MAIN = { left: 48.5, top: 61, right: 1883, bottom: 1454 };
const PANEL = { left: 1930.7, right: 1982.7 };

export default function App() {
  const mainRef = useRef<HTMLCanvasElement>(null);
  const panelRef = useRef<HTMLCanvasElement>(null);

  useEffect(() => {
    if (!mainRef.current || !panelRef.current) return;

    const datasets: any[] = [];
    for (let i = channelLevels.length - 1; i >= 0; i--) {
      datasets.push({
        data: channelData[i].map(([x, y]) => ({ x, y })),
        borderColor: channelColor(channelLevels[i]),
        borderWidth: 2.6,
        pointRadius: 0,
        fill: false,
        tension: 0,
      });
    }
    for (const lv of channelLevels) {
      datasets.push({
        data: [
          { x: baselineStart, y: lv },
          { x: baselineEnd, y: lv },
        ],
        borderColor: "rgba(160,160,160,0.8)",
        borderWidth: 1.5,
        pointRadius: 0,
        fill: false,
      });
    }

    const mainDecor = {
      id: "mainDecor",
      afterDraw(chart: any) {
        const ctx = chart.ctx;
        const a = chart.chartArea;
        const xs = chart.scales.x;
        ctx.save();
        ctx.strokeStyle = "#000";
        ctx.lineWidth = 1;
        for (let m = 0; m <= 600; m += xMinorStep) {
          if (m % 20 === 0) continue;
          const px = Math.round(xs.getPixelForValue(m)) + 0.5;
          ctx.beginPath();
          ctx.moveTo(px, a.bottom);
          ctx.lineTo(px, a.bottom + 3.5);
          ctx.stroke();
        }
        ctx.lineWidth = 1.2;
        ctx.strokeRect(a.left, a.top, a.right - a.left, a.bottom - a.top);
        ctx.fillStyle = "#000";
        ctx.font = `20px ${FONT}`;
        ctx.textAlign = "center";
        ctx.textBaseline = "middle";
        ctx.fillText(TITLE, 1000, 38);
        ctx.restore();
      },
    };

    const main = new Chart(mainRef.current, {
      type: "line",
      data: { datasets },
      options: {
        animation: false,
        responsive: false,
        devicePixelRatio: 1,
        parsing: false,
        normalized: true,
        layout: { padding: { top: MAIN.top, right: W - MAIN.right, left: 0, bottom: 0 } },
        plugins: { legend: { display: false }, tooltip: { enabled: false }, title: { display: false } },
        elements: { point: { radius: 0 }, line: { tension: 0 } },
        scales: {
          x: {
            type: "linear",
            min: 0,
            max: 600,
            afterBuildTicks: (s: any) => {
              s.ticks = xTickMinutes.map((v) => ({ value: v }));
            },
            afterFit: (s: any) => {
              s.height = H - MAIN.bottom;
            },
            grid: { drawOnChartArea: false, drawTicks: true, tickLength: 6, color: "#000", tickColor: "#000", tickWidth: 1 },
            border: { display: true, color: "#000", width: 1 },
            ticks: {
              callback: (v: any) => fmtTime(Number(v)),
              font: { family: FONT, size: 15.5 },
              color: "#000",
              maxRotation: 0,
              minRotation: 0,
              autoSkip: false,
              padding: 3,
            },
          },
          y: {
            type: "linear",
            min: -0.2,
            max: 10,
            afterBuildTicks: (s: any) => {
              s.ticks = yTickValues.map((v) => ({ value: v }));
            },
            afterFit: (s: any) => {
              s.width = MAIN.left;
            },
            grid: { drawOnChartArea: false, drawTicks: true, tickLength: 6, color: "#000", tickColor: "#000", tickWidth: 1 },
            border: { display: true, color: "#000", width: 1 },
            ticks: {
              callback: (v: any) => String(v),
              font: { family: FONT, size: 15.5 },
              color: "#000",
              padding: 4,
            },
          },
        },
      } as any,
      plugins: [mainDecor],
    });

    const dotColors = channelLevels.map((lv) => channelColor(lv));
    const dotData = channelLevels.map((lv, i) => ({ x: panelDotX[i], y: lv }));

    const panelDecor = {
      id: "panelDecor",
      afterDraw(chart: any) {
        const ctx = chart.ctx;
        const a = chart.chartArea;
        const xs = chart.scales.x;
        const ys = chart.scales.y;
        ctx.save();
        ctx.strokeStyle = "#000";
        ctx.lineWidth = 1;
        for (const v of yTickValues) {
          const py = Math.round(ys.getPixelForValue(v)) + 0.5;
          ctx.beginPath();
          ctx.moveTo(a.left - 6, py);
          ctx.lineTo(a.left, py);
          ctx.stroke();
        }
        for (const v of panelXTicks) {
          const px = Math.round(xs.getPixelForValue(v)) + 0.5;
          ctx.beginPath();
          ctx.moveTo(px, a.bottom);
          ctx.lineTo(px, a.bottom + 5);
          ctx.stroke();
        }
        ctx.lineWidth = 1.2;
        ctx.strokeRect(a.left, a.top, a.right - a.left, a.bottom - a.top);
        ctx.restore();
      },
    };

    const panel = new Chart(panelRef.current, {
      type: "line",
      data: {
        datasets: [
          {
            data: dotData,
            showLine: false,
            pointRadius: 6.5,
            pointBackgroundColor: dotColors,
            pointBorderColor: dotColors,
            pointBorderWidth: 0,
          },
          {
            data: dotData,
            borderColor: "#333",
            borderWidth: 1,
            pointRadius: 0,
            fill: false,
          },
          {
            data: [
              { x: 0, y: channelLevels[0] },
              { x: 0, y: channelLevels[channelLevels.length - 1] },
            ],
            borderColor: "rgba(150,150,150,0.75)",
            borderWidth: 2.5,
            pointRadius: 0,
            fill: false,
          },
        ],
      },
      options: {
        animation: false,
        responsive: false,
        devicePixelRatio: 1,
        parsing: false,
        layout: { padding: { top: MAIN.top, left: PANEL.left, right: W - PANEL.right, bottom: H - MAIN.bottom } },
        plugins: { legend: { display: false }, tooltip: { enabled: false }, title: { display: false } },
        scales: {
          x: { type: "linear", min: -1.6, max: 1.65, display: false },
          y: { type: "linear", min: -0.2, max: 10, display: false },
        },
      } as any,
      plugins: [panelDecor],
    });

    return () => {
      main.destroy();
      panel.destroy();
    };
  }, []);

  return (
    <div style={{ position: "absolute", left: 0, top: 0, width: W, height: H, background: "#fff" }}>
      <canvas ref={mainRef} width={W} height={H} style={{ position: "absolute", left: 0, top: 0, width: W, height: H }} />
      <canvas ref={panelRef} width={W} height={H} style={{ position: "absolute", left: 0, top: 0, width: W, height: H }} />
    </div>
  );
}
